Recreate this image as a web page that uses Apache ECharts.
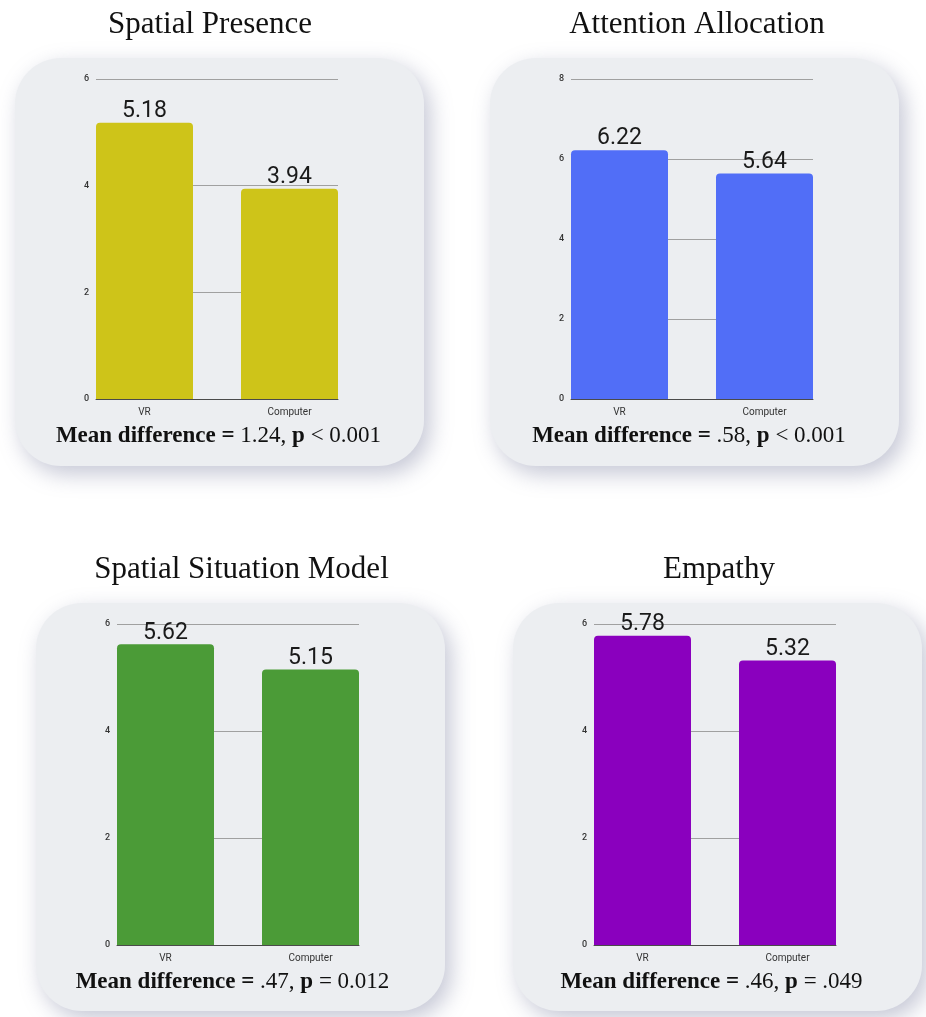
<!DOCTYPE html>
<html>
<head>
<meta charset="utf-8">
<script src="https://cdn.jsdelivr.net/npm/echarts@6/dist/echarts.min.js"></script>
<style>
  html, body { margin: 0; padding: 0; background: #ffffff; }
  #chart { width: 926px; height: 1017px; }
</style>
</head>
<body>
<div id="chart"></div>
<script>
// ---- data ----
const categories = ['VR', 'Computer'];
const panelTitles = ['Spatial Presence', 'Attention Allocation', 'Spatial Situation Model', 'Empathy'];
const spatialPresence = [5.18, 3.94];
const attentionAllocation = [6.22, 5.64];
const spatialSituationModel = [5.62, 5.15];
const empathy = [5.78, 5.32];
const axisMax = [6, 8, 6, 6];
const axisInterval = 2;
const meanDiffs = ['1.24', '.58', '.47', '.46'];
const pOps = ['<', '<', '=', '='];
const pValues = ['0.001', '0.001', '0.012', '.049'];

// ---- styling / layout ----
const seriesValues = [spatialPresence, attentionAllocation, spatialSituationModel, empathy];
const barColors = ['#CEC419', '#516EF7', '#4B9B37', '#8A00BE'];
const plots = [
  { left: 96, top: 79, h: 320, titleX: 210, titleY: 25, statX: 218.5, statY: 436 },
  { left: 571, top: 79, h: 320, titleX: 697, titleY: 25, statX: 689, statY: 436 },
  { left: 117, top: 624, h: 321, titleX: 241.5, titleY: 570, statX: 232.5, statY: 982 },
  { left: 594, top: 624, h: 321, titleX: 719, titleY: 570, statX: 711.5, statY: 982 }
];
const W = 926, H = 1017;
const plotW = 242;
const catW = 290;
const serif = '"Liberation Serif", "Times New Roman", serif';
const sans = 'Roboto, "Noto Sans", sans-serif';

const grid = [], xAxis = [], yAxis = [], series = [], graphic = [];

plots.forEach((p, i) => {
  // grid A: split lines + y labels
  grid.push({ left: p.left, top: p.top, width: plotW, height: p.h, containLabel: false });
  // grid B: bars + category labels
  grid.push({ left: p.left - 24, top: p.top, width: catW, height: p.h, containLabel: false });
  const a = 2 * i, b = 2 * i + 1;
  xAxis.push({
    gridIndex: a, type: 'category', data: categories,
    axisLine: { show: true, lineStyle: { color: '#4a4a4a', width: 1 } },
    axisTick: { show: false }, axisLabel: { show: false }, splitLine: { show: false }
  });
  xAxis.push({
    gridIndex: b, type: 'category', data: categories,
    axisLine: { show: false }, axisTick: { show: false },
    axisLabel: { show: true, fontFamily: sans, fontSize: 10, color: '#333', margin: 8 }
  });
  yAxis.push({
    gridIndex: a, type: 'value', min: 0, max: axisMax[i], interval: axisInterval,
    axisLine: { show: false }, axisTick: { show: false },
    axisLabel: { fontFamily: sans, fontSize: 9, fontWeight: 500, color: '#333', margin: 7 },
    splitLine: { show: true, lineStyle: { color: '#a0a0a0', width: 1 } }
  });
  yAxis.push({
    gridIndex: b, type: 'value', min: 0, max: axisMax[i], interval: axisInterval, show: false,
    splitLine: { show: false }
  });
  series.push({
    type: 'bar', xAxisIndex: b, yAxisIndex: b,
    data: seriesValues[i], barWidth: 97,
    itemStyle: { color: barColors[i], borderRadius: [4, 4, 0, 0] },
    label: {
      show: true, position: 'top', distance: 0,
      fontFamily: sans, fontSize: 23, color: '#1a1a1a',
      formatter: (d) => d.value.toFixed(2)
    },
    z: 3
  });
  // card
  graphic.push({
    type: 'rect', z: -10,
    shape: { x: p.left - 81, y: p.top - 21, width: 409, height: 408, r: 46 },
    style: {
      fill: '#ECEEF1',
      shadowBlur: 22, shadowColor: 'rgba(110,115,150,0.4)',
      shadowOffsetX: 6, shadowOffsetY: 8
    }
  });
  // title
  graphic.push({
    type: 'text', z: 10, x: p.titleX, y: p.titleY,
    style: {
      text: panelTitles[i], fontFamily: serif, fontSize: 31, fill: '#111',
      textAlign: 'center', textVerticalAlign: 'middle'
    }
  });
  // stats line
  graphic.push({
    type: 'text', z: 10, x: p.statX, y: p.statY,
    style: {
      text: '{b|Mean difference =} {n|' + meanDiffs[i] + ',} {b|p} {n|' + pOps[i] + ' ' + pValues[i] + '}',
      textAlign: 'center', textVerticalAlign: 'middle',
      fontFamily: serif, fontSize: 23, fill: '#111',
      rich: {
        b: { fontFamily: serif, fontSize: 23, fontWeight: 'bold', fill: '#111' },
        n: { fontFamily: serif, fontSize: 23, fontWeight: 'normal', fill: '#111' }
      }
    }
  });
});

const chart = echarts.init(document.getElementById('chart'), null, { renderer: 'canvas', width: W, height: H });
chart.setOption({
  backgroundColor: '#ffffff',
  animation: false,
  grid, xAxis, yAxis, series, graphic
});
</script>
</body>
</html>
